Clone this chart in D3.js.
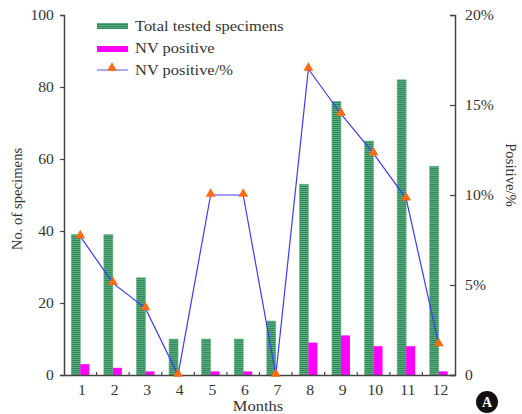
<!DOCTYPE html>
<html><head><meta charset="utf-8">
<script src="https://cdn.jsdelivr.net/npm/d3@7"></script>
<style>html,body{margin:0;padding:0;background:#fff;}svg{display:block;}</style>
</head><body>
<svg id="c" width="522" height="414"></svg>
<script>
const months = ["1","2","3","4","5","6","7","8","9","10","11","12"];
const totalTested = [39, 39, 27, 10, 10, 10, 15, 53, 76, 65, 82, 58];
const nvPositive = [3, 2, 1, 0, 1, 1, 0, 9, 11, 8, 8, 1];
const positivePct = [7.7, 5.1, 3.7, 0, 10, 10, 0, 17.0, 14.5, 12.3, 9.8, 1.7];
const leftTicks = [0, 20, 40, 60, 80, 100];
const rightTicks = [0, 5, 10, 15, 20];
const legendLabels = ["Total tested specimens", "NV positive", "NV positive/%"];

const svg = d3.select("#c");
const font = "'Liberation Serif','Times New Roman',serif";
const FS = 14.7, SX = 1.12;
const L = 64, R = 455, T = 15, B = 375;

const x = d3.scaleBand().domain(months).range([L, R]).paddingInner(0).paddingOuter(0);
const y = d3.scaleLinear().domain([0, 100]).range([B, T]);
const y2 = d3.scaleLinear().domain([0, 20]).range([B, T]);
const barW = 9;

const defs = svg.append("defs");
const pat = defs.append("pattern").attr("id", "gstripe").attr("patternUnits", "userSpaceOnUse")
  .attr("width", 4).attr("height", 2);
pat.append("rect").attr("width", 4).attr("height", 2).attr("fill", "#2d8a58");
pat.append("rect").attr("y", 1.4).attr("width", 4).attr("height", 0.6).attr("fill", "#7cc49a");

// bars
const g = svg.append("g");
g.selectAll("rect.tot").data(months).join("rect").attr("class", "tot")
  .attr("x", d => x(d) + x.bandwidth() / 2 - barW)
  .attr("width", barW)
  .attr("y", (d, i) => y(totalTested[i]))
  .attr("height", (d, i) => B - y(totalTested[i]))
  .attr("fill", "url(#gstripe)").attr("stroke", "#6ab48a").attr("stroke-width", 0.6);
g.selectAll("rect.pos").data(months).join("rect").attr("class", "pos")
  .attr("x", d => x(d) + x.bandwidth() / 2)
  .attr("width", barW)
  .attr("y", (d, i) => y(nvPositive[i]))
  .attr("height", (d, i) => B - y(nvPositive[i]))
  .attr("fill", "#ff00ff");

// axes
const axL = svg.append("g").attr("transform", `translate(${L},0)`)
  .call(d3.axisLeft(y).tickValues(leftTicks).tickSize(4).tickPadding(5));
const axR = svg.append("g").attr("transform", `translate(${R},0)`)
  .call(d3.axisRight(y2).tickValues(rightTicks).tickSize(-5).tickPadding(9)
    .tickFormat(d => d === 0 ? "0" : d + "%"));
const axB = svg.append("g").attr("transform", `translate(0,${B})`)
  .call(d3.axisBottom(x).tickSize(0).tickPadding(10));
[axL, axR, axB].forEach(a => {
  a.selectAll("path.domain").attr("stroke", "#444").attr("stroke-width", 1.5);
  a.selectAll("line").attr("stroke", "#444").attr("stroke-width", 1.2);
  a.selectAll("text").attr("font-family", font).attr("font-size", 14).attr("fill", "#333")
    .attr("transform", `scale(${SX},1)`);
});
axB.selectAll("text").attr("dx", 1.5);
// small up ticks between months
svg.append("g").selectAll("line").data(months.slice(1)).join("line")
  .attr("x1", d => x(d)).attr("x2", d => x(d))
  .attr("y1", B).attr("y2", B - 3).attr("stroke", "#444").attr("stroke-width", 1.2);

// line
const cx = d => x(d) + x.bandwidth() / 2;
const line = d3.line().x((d, i) => cx(months[i])).y(d => y2(d));
svg.append("path").datum(positivePct).attr("d", line)
  .attr("fill", "none").attr("stroke", "#3a3aff").attr("stroke-width", 1.2);
const tri = d3.symbol().type(d3.symbolTriangle).size(42);
svg.append("g").selectAll("path").data(positivePct).join("path")
  .attr("d", tri).attr("transform", (d, i) => `translate(${cx(months[i])},${y2(d) - 1})`)
  .attr("fill", "#ff6a10");

// axis titles
svg.append("text").attr("transform", "translate(22,199) rotate(-90)")
  .attr("text-anchor", "middle").attr("font-family", font).attr("font-size", FS).attr("fill", "#333")
  .text("No. of specimens");
svg.append("text").attr("transform", "translate(506,175) rotate(90)")
  .attr("text-anchor", "middle").attr("font-family", font).attr("font-size", FS).attr("fill", "#333")
  .text("Positive/%");
svg.append("text").attr("transform", `translate(258,411) scale(${SX},1)`)
  .attr("text-anchor", "middle").attr("font-family", font).attr("font-size", FS).attr("fill", "#333")
  .text("Months");

// legend
const lg = svg.append("g");
lg.append("rect").attr("x", 97).attr("y", 23).attr("width", 31).attr("height", 6).attr("fill", "url(#gstripe)");
lg.append("rect").attr("x", 97).attr("y", 46).attr("width", 31).attr("height", 6).attr("fill", "#ff00ff");
lg.append("line").attr("x1", 97).attr("x2", 128).attr("y1", 70).attr("y2", 70).attr("stroke", "#7070ff").attr("stroke-width", 1.2);
lg.append("path").attr("d", tri).attr("transform", "translate(112,68)").attr("fill", "#ff6a10");
legendLabels.forEach((t, i) => {
  lg.append("text").attr("transform", `translate(135,${31 + i * 22}) scale(${SX},1)`)
    .attr("font-family", font).attr("font-size", FS).attr("fill", "#333").text(t);
});

// panel marker
svg.append("circle").attr("cx", 487).attr("cy", 402).attr("r", 11).attr("fill", "#111");
svg.append("text").attr("x", 487).attr("y", 407).attr("text-anchor", "middle")
  .attr("font-family", font).attr("font-size", 14).attr("font-weight", "bold").attr("fill", "#fff").text("A");
</script>
</body></html>
